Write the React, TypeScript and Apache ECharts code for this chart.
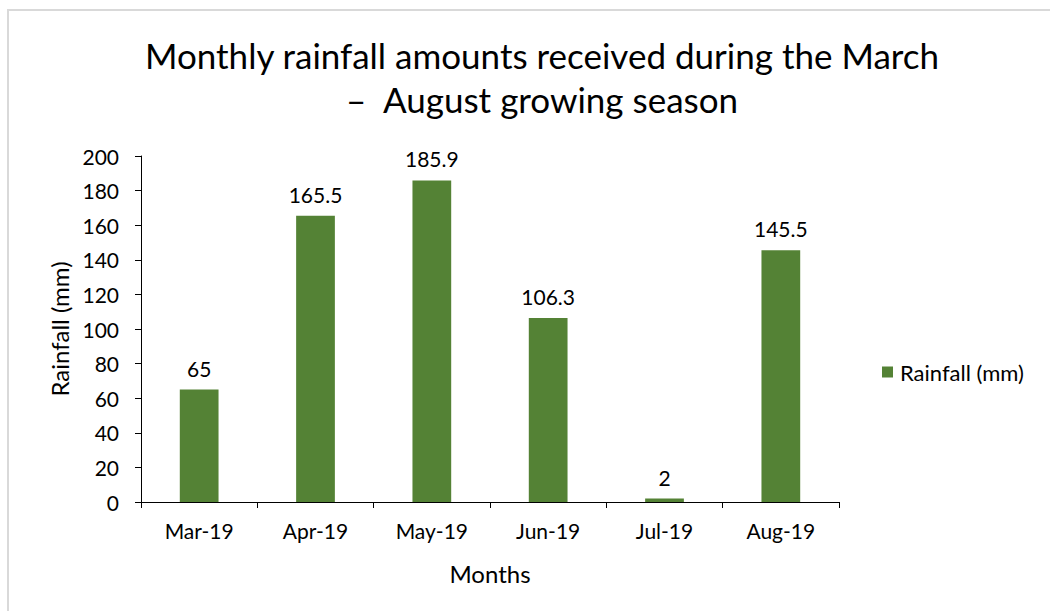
import React, { useEffect, useRef } from "react";
import * as echarts from "echarts";

const categories = ["Mar-19", "Apr-19", "May-19", "Jun-19", "Jul-19", "Aug-19"];
const rainfall = [65, 165.5, 185.9, 106.3, 2, 145.5];
const seriesName = "Rainfall (mm)";
const titleText = "Monthly rainfall amounts received during the March\n–  August growing season";

const FONT = "Lato, 'Noto Sans', sans-serif";

export default function App() {
  const ref = useRef<HTMLDivElement>(null);
  useEffect(() => {
    document.body.style.margin = "0";
    const chart = echarts.init(ref.current!, undefined, { renderer: "svg" });
    chart.setOption({
      animation: false,
      backgroundColor: "#ffffff",
      textStyle: { fontFamily: FONT },
      title: {
        text: titleText,
        left: 537,
        textAlign: "center",
        top: 28,
        textStyle: { fontFamily: FONT, fontSize: 35, fontWeight: "normal", color: "#000", lineHeight: 44 },
      },
      graphic: [
        { type: "line", shape: { x1: 7, y1: 10, x2: 1050, y2: 10 }, style: { stroke: "#d9d9d9", lineWidth: 2 } },
        { type: "line", shape: { x1: 8, y1: 10, x2: 8, y2: 611 }, style: { stroke: "#d9d9d9", lineWidth: 2 } },
      ],
      legend: {
        left: 877,
        top: 356,
        orient: "vertical",
        itemWidth: 11,
        itemHeight: 11,
        icon: "rect",
        itemGap: 6,
        textStyle: { fontFamily: FONT, fontSize: 22, color: "#000", padding: [0, 0, 0, 2] },
        data: [seriesName],
      },
      grid: { left: 141, right: 211, top: 156, bottom: 109, containLabel: false },
      xAxis: {
        type: "category",
        data: categories,
        name: "Months",
        nameLocation: "middle",
        nameGap: 59,
        nameTextStyle: { fontFamily: FONT, fontSize: 24, color: "#000" },
        axisLine: { lineStyle: { color: "#000", width: 1 } },
        axisTick: { show: true, alignWithLabel: false, length: 6, lineStyle: { color: "#000" } },
        axisLabel: { fontFamily: FONT, fontSize: 21, color: "#000", margin: 18 },
      },
      yAxis: {
        type: "value",
        min: 0,
        max: 200,
        interval: 20,
        name: "Rainfall (mm)",
        nameLocation: "middle",
        nameRotate: 90,
        nameGap: 67,
        nameTextStyle: { fontFamily: FONT, fontSize: 24, color: "#000" },
        axisLine: { show: true, lineStyle: { color: "#000", width: 1 } },
        axisTick: { show: true, length: 6, lineStyle: { color: "#000" } },
        axisLabel: { fontFamily: FONT, fontSize: 21, color: "#000", margin: 22 },
        splitLine: { show: false },
      },
      series: [
        {
          name: seriesName,
          type: "bar",
          data: rainfall,
          barCategoryGap: "66.7%",
          itemStyle: { color: "#548235" },
          label: {
            show: true,
            position: "top",
            distance: 11,
            fontFamily: FONT,
            fontSize: 21,
            color: "#000",
          },
        },
      ],
    });
    return () => chart.dispose();
  }, []);
  return <div ref={ref} style={{ width: 1050, height: 611 }} />;
}
